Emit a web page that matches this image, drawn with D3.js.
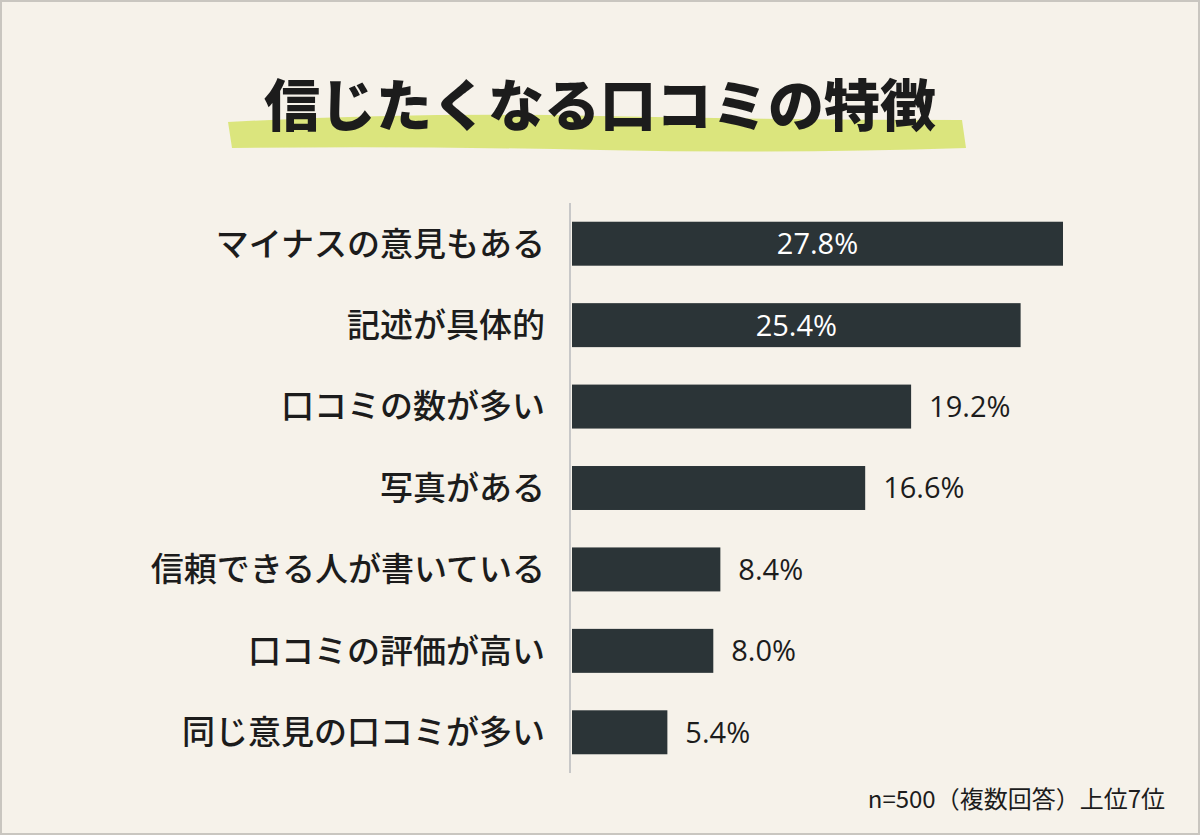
<!DOCTYPE html>
<html><head><meta charset="utf-8">
<script src="https://cdn.jsdelivr.net/npm/d3@7.9.0/dist/d3.min.js"></script>
<style>
body{margin:0;background:#fff;}
svg{display:block;font-family:"Noto Sans CJK JP","Noto Sans",sans-serif;}
</style></head><body>
<svg id="chart" width="1200" height="835"></svg>
<script>
const categories=['マイナスの意見もある','記述が具体的','口コミの数が多い','写真がある','信頼できる人が書いている','口コミの評価が高い','同じ意見の口コミが多い'];
const values=[27.8,25.4,19.2,16.6,8.4,8.0,5.4];
const insideLabels=[true,true,false,false,false,false,false];

const svg=d3.select('#chart');
svg.append('rect').attr('x',1).attr('y',1).attr('width',1198).attr('height',833)
  .attr('fill','#f6f2ea').attr('stroke','#c9c6c0').attr('stroke-width',2);

// title highlight brush
svg.append('path')
  .attr('d','M228,122 Q420,112 600,116 T962,120 L966,148 Q780,154 600,150 T232,148 Z')
  .attr('fill','#d6e36a').attr('opacity',0.85);
svg.append('text').attr('x',600).attr('y',126).attr('text-anchor','middle')
  .attr('font-size',56).attr('font-weight',900).attr('fill','#1c1c1c')
  .text('信じたくなる口コミの特徴');

const x=d3.scaleLinear().domain([0,27.8]).range([572,1063]);
const y=d3.scaleBand().domain(categories).range([203,773]).paddingInner(0.46).paddingOuter(0.23);

svg.append('line').attr('x1',570).attr('x2',570).attr('y1',203).attr('y2',773)
  .attr('stroke','#c8c8c8').attr('stroke-width',2);

const g=svg.selectAll('g.bar').data(categories).join('g');
g.append('rect').attr('x',x(0)).attr('y',d=>y(d))
  .attr('width',(d,i)=>x(values[i])-x(0)).attr('height',y.bandwidth()).attr('fill','#2b3437');
g.append('text').attr('x',545).attr('y',d=>y(d)+y.bandwidth()/2).attr('dy','0.36em')
  .attr('text-anchor','end').attr('font-size',33).attr('font-weight',500).attr('fill','#1c1c1c').text(d=>d);
g.append('text')
  .attr('x',(d,i)=>insideLabels[i]?(x(0)+x(values[i]))/2:x(values[i])+18)
  .attr('y',d=>y(d)+y.bandwidth()/2).attr('dy','0.36em')
  .attr('text-anchor',(d,i)=>insideLabels[i]?'middle':'start')
  .attr('font-size',29).attr('font-weight',500).attr('font-family','"Open Sans",sans-serif')
  .attr('fill',(d,i)=>insideLabels[i]?'#ffffff':'#1c1c1c')
  .text((d,i)=>values[i].toFixed(1)+'%');

svg.append('text').attr('x',1165).attr('y',808).attr('text-anchor','end')
  .attr('font-size',24).attr('fill','#1c1c1c').text('n=500（複数回答）上位7位');
</script></body></html>
